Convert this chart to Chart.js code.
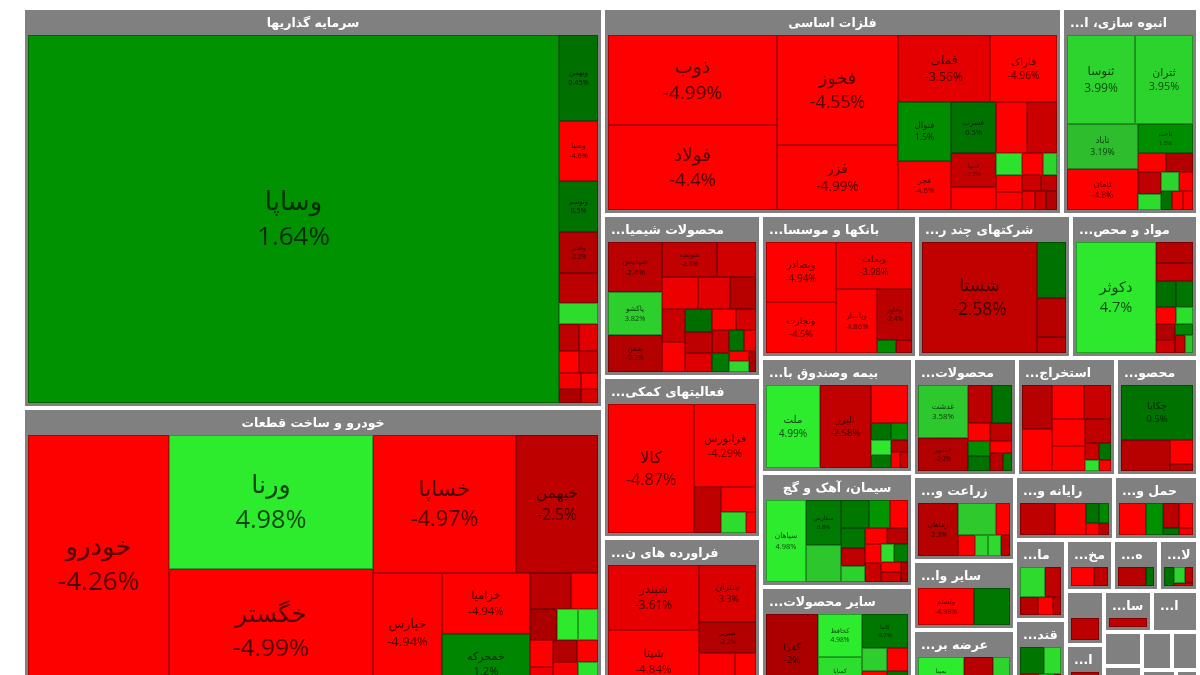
<!DOCTYPE html>
<html lang="fa">
<head>
<meta charset="utf-8">
<title>نقشه بازار</title>
<script src="https://cdn.jsdelivr.net/npm/chart.js@4.4.1/dist/chart.umd.min.js"></script>
<style>
  html, body { margin: 0; padding: 0; background: #fff; width: 1200px; height: 675px; overflow: hidden; }
  #wrap { position: absolute; left: 23px; top: 8px; width: 1175px; height: 690px; }
</style>
</head>
<body>
<div id="wrap"><canvas id="map" width="1175" height="690"></canvas></div>
<script>
// گروه ها (صنایع) و اندازه هر گروه
const sectorNames = [
  'سرمایه گذاریها', 'خودرو و ساخت قطعات', 'فلزات اساسی', 'انبوه سازی، املاک و مستغلات',
  'محصولات شیمیایی', 'فعالیتهای کمکی به نهادهای مالی واسط', 'فراورده های نفتی، کک و سوخت هسته ای',
  'بانکها و موسسات اعتباری', 'شرکتهای چند رشته ای صنعتی', 'مواد و محصولات دارویی',
  'بیمه وصندوق بازنشستگی به جزتامین اجتماعی', 'سیمان، آهک و گچ', 'سایر محصولات کانی غیرفلزی',
  'محصولات غذایی و آشامیدنی به جز قند و شکر', 'استخراج کانه های فلزی', 'محصولات کاغذی',
  'زراعت و خدمات وابسته', 'سایر واسطه گریهای مالی', 'عرضه برق، گاز، بخاروآب گرم',
  'رایانه و فعالیتهای وابسته به آن', 'حمل و نقل، انبارداری و ارتباطات', 'ماشین آلات و تجهیزات',
  'قند و شکر', 'مخابرات', 'هتل و رستوران', 'لاستیک و پلاستیک', 'پیمانکاری صنعتی',
  'اطلاعات و ارتباطات', 'ساخت محصولات فلزی', 'استخراج نفت گاز و خدمات جنبی',
  'کاشی و سرامیک', 'منسوجات', 'دباغی، پرداخت چرم', 'خرده فروشی', 'ساخت دستگاهها', 'فعالیتهای هنری'
];
const sectorValues = [
  228, 165, 93, 27.5, 25.2, 25.0, 24.8, 21.8, 21.6, 17.9, 17.2, 16.9, 16.6, 12.1, 11.5, 9.6,
  8.5, 6.9, 6.8, 6.1, 5.2, 4.0, 3.9, 2.4, 2.3, 2.0, 2.0, 1.95, 1.9, 1.85, 1.3, 1.2, 1.1, 1.0, 0.9, 0.6
];

// نمادهای هر گروه
const stockNames = [
  ['وساپا','وبهمن','وصنا','وتوسم','وغدیر','وامید','ونیکی','وسپه','وبوعلی','وسکاب','وآتی','وتوصا','وکادو','وساخت','ولتجار'],
  ['خودرو','ورنا','خگستر','خساپا','خبهمن','خپارس','خزامیا','خمحرکه','خکاوه','خریخت','خفنر','خمهر','خاهن','خچرخش','ختوقا','خرینگ','خشرق','ختور','خفولا','خکار','خلنت'],
  ['ذوب','فولاد','فخوز','فزر','فملی','فاراک','فنوال','فجر','فسرب','فخاس','فروی','فسپا','فگستر','فلامی','فنفت','فجهان','فرآور','فکوره','فولای','فاسمین','فسازان','فباهنر','فمراد'],
  ['ثنوسا','ثتران','ثاباد','ثامان','ثاخت','ثشاهد','ثفارس','ثشرق','ثرود','ثعمرا','ثپردیس','ثمسکن','ثاصفا','ثبهساز'],
  ['شپدیس','پاکشو','شفن','شوینده','شکلر','شصفها','شپاکسا','شغدیر','شاراک','شیراز','شجم','شکربن','شگل','شصدف','شدوص','شفارس','شسینا','شخاک','شلعاب','شبهرن','شخارک','شتوکا'],
  ['کالا','فرابورس','کارا','اطلس','آرین','دارا'],
  ['شبندر','شپنا','شتران','شبریز','شاوان','شسپا'],
  ['وبصادر','وتجارت','وبملت','وپاسار','وخاور','وکار','وسینا'],
  ['شستا','وصنعت','وتوکا','وپارس'],
  ['دکوثر','دفارا','دسبحا','دلر','دجابر','دتماد','دعبید','دزهراوی','دشیمی','داسوه','دالبر','دپارس'],
  ['ملت','البرز','بپاس','دانا','آسیا','کوثر','بنو','ودی','اتکای','حافظ'],
  ['سپاهان','سفارس','سخزر','سشمال','ساروم','سصفها','سهگمت','سکرد','سشرق','ساوه','سدور','سخوز','سغرب','سبهان','سکرما','سفار','سیلام','سبجنو'],
  ['کفرا','کحافظ','کساپا','کاما','کسرا','کرازی','کگاز','کلوند'],
  ['غدشت','غبشهر','غگل','غپاک','غمارگ','غنوش','غشاذر','غکورش','غسالم','غزر','غصینو'],
  ['کگل','کچاد','کروی','کگهر','کدما','کمنگنز','کترام','کمیناب','کجهان','کسرب','کزغال'],
  ['چکاپا','چفیبر','چکارن','چافست'],
  ['زماهان','زکوثر','زقیام','زشریف','زبینا','زفکا','زپارس'],
  ['ولصنم','ولتجار'],
  ['بمپنا','بکهنوج','بفجر','بزاگرس','بجهرم'],
  ['رتاپ','سیستم','مداران','ررایان','رافزا','رکیش'],
  ['حکشتی','حفارس','حتوکا','حپترو','حسینا','حآفرین'],
  ['تپمپی','لکما','تکنو','خاذین','فجام'],
  ['قثابت','قپیرا','قشکر','قنیشا','قلرست'],
  ['اخابر','همراه'],
  ['گکیش','سبزوا'],
  ['پکرمان','پتایر','پاسا','پدرخش'],
  ['بالاس'],
  ['اپرداز'],
  ['فلوله'],
  [], [], [], [], [], [], []
];
const stockValues = [
  [215.5,3.7,2.6,2.2,1.8,1.3,0.9,0.6,0.55,0.5,0.45,0.4,0.35,0.3,0.25],
  [34.5,26,24,18.7,10.8,7.9,5.1,4.9,1.4,0.9,0.8,0.6,0.6,0.6,0.55,0.5,0.45,0.4,0.35,0.3,0.3],
  [14.7,14.0,13.0,7.7,6.0,4.35,3.0,2.5,2.25,1.5,1.5,1.5,1.0,0.55,0.45,0.45,0.45,0.3,0.3,0.25,0.25,0.2,0.2],
  [5.8,5.0,3.1,2.8,1.55,0.5,0.5,0.46,0.35,0.33,0.25,0.22,0.2,0.18],
  [2.6,2.2,1.9,1.8,1.3,1.1,1.0,0.8,0.7,0.65,0.6,0.55,0.5,0.45,0.4,0.35,0.3,0.3,0.25,0.2,0.2,0.15],
  [10.8,5.0,1.2,0.85,0.5,0.2],
  [6.2,6.0,3.4,1.8,1.5,0.9],
  [4.2,3.6,3.6,2.65,1.8,0.25,0.2],
  [12.8,1.6,1.15,0.45],
  [9.3,0.8,0.7,0.55,0.45,0.35,0.3,0.3,0.25,0.2,0.2,0.15],
  [4.5,4.2,1.4,0.35,0.3,0.3,0.25,0.2,0.15,0.12],
  [3.3,1.6,1.3,0.8,0.6,0.5,0.5,0.45,0.4,0.35,0.35,0.3,0.3,0.25,0.25,0.2,0.2,0.15],
  [4.5,2.1,1.8,1.7,0.65,0.6,0.55,0.5],
  [2.4,1.5,0.8,0.7,0.35,0.35,0.3,0.3,0.25,0.2,0.15],
  [1.25,1.2,1.05,0.9,0.85,0.8,0.6,0.25,0.2,0.15,0.12],
  [3.9,1.5,0.55,0.15],
  [2.3,1.3,0.5,0.4,0.3,0.3,0.2],
  [1.7,1.1],
  [2.2,0.8,0.6,0.6,0.2],
  [1.1,1.0,0.25,0.2,0.15,0.12],
  [0.85,0.55,0.4,0.35,0.12,0.1],
  [0.8,0.5,0.35,0.3,0.15],
  [0.7,0.5,0.4,0.3,0.15],
  [0.5,0.3],
  [0.5,0.15],
  [0.3,0.25,0.2,0.1],
  [0.1],
  [0.1],
  [0.1],
  [], [], [], [], [], [], []
];
// درصد تغییر قیمت
const stockChanges = [
  [1.64,0.45,-4.6,0.5,-2.2,-2.4,4.3,-2.5,-3.5,-4.5,-3.0,-4.0,-2.0,-4.8,-3.2],
  [-4.26,4.98,-4.99,-4.97,-2.5,-4.94,-4.94,1.2,-2.4,-4.6,-2.0,4.8,4.7,-4.3,-3.9,-2.2,-4.6,-4.0,-2.8,4.5,-3.3],
  [-4.99,-4.4,-4.55,-4.99,-3.56,-4.96,1.5,-4.6,0.5,-4.5,-2.8,-2.7,-4.4,4.5,-4.7,-4.8,-4.5,4.0,-2.9,-2.5,-3.8,-3.0,-2.2],
  [3.99,3.95,3.19,-4.8,1.5,-4.6,-2.2,-2.5,4.3,4.0,-4.5,0.5,-4.9,-4.2],
  [-2.4,3.82,-2.2,-2.6,-3.0,-3.8,-3.5,-2.3,-2.8,-4.2,0.4,-2.5,-3.4,-4.5,-3.1,-2.7,0.8,0.5,-3.9,-4.3,4.2,-2.0],
  [-4.87,-4.29,-2.5,-4.4,4.3,-4.6],
  [-3.61,-4.84,-3.3,-2.2,-4.2,-4.5],
  [-4.94,-4.5,-3.98,-4.86,-2.4,1.4,-2.7],
  [-2.58,0.5,-2.3,-2.5],
  [4.7,-2.3,-2.6,0.4,0.6,-4.7,4.4,-2.2,-3.0,1.3,-2.7,3.5],
  [4.99,-2.58,-4.6,0.5,1.5,4.7,0.6,-2.4,-4.5,-3.0],
  [4.98,0.8,3.5,0.7,1.8,-4.6,0.6,-2.5,3.9,-4.5,-2.3,-4.8,-2.8,4.4,0.9,-4.2,-3.0,-2.1],
  [-2.0,4.98,4.4,0.7,3.8,-4.4,-4.6,0.5],
  [3.58,-2.2,-2.4,0.5,-4.5,-2.5,1.5,0.5,-4.4,-2.3,0.6],
  [-2.3,-4.5,-4.6,-2.8,-4.3,-4.6,-2.5,-2.8,0.5,4.5,-4.5],
  [0.5,-2.3,-4.5,-2.5],
  [-2.3,3.6,-4.6,-4.3,4.0,4.2,-2.5],
  [-4.98,0.7],
  [4.9,-2.3,0.6,4.0,0.5],
  [-2.5,-4.3,0.5,1.3,-4.5,-2.4],
  [-4.6,1.6,-2.4,-4.4,0.5,-4.0],
  [4.2,-2.5,-2.3,-4.5,-2.4],
  [0.6,4.3,-4.5,3.9,-2.4],
  [-4.6,-2.5],
  [-2.3,0.5],
  [0.5,4.0,-2.5,-3.0],
  [-2.4],
  [-2.3],
  [-2.5],
  [], [], [], [], [], [], []
];

// چیدمان مربعی (squarified)
function worst(row, side) {
  const s = row.reduce((t, r) => t + r.a, 0);
  const mx = Math.max(...row.map(r => r.a));
  const mn = Math.min(...row.map(r => r.a));
  return Math.max(side * side * mx / (s * s), (s * s) / (side * side * mn));
}

function squarify(values, x, y, w, h) {
  const out = values.map(() => null);
  const order = values.map((v, i) => i).filter(i => values[i] > 0).sort((a, b) => values[b] - values[a]);
  const total = order.reduce((s, i) => s + values[i], 0);
  if (!total || w <= 0 || h <= 0) return out;
  const k = (w * h) / total;
  let rest = order.map(i => ({ i, a: values[i] * k }));
  while (rest.length) {
    const side = Math.min(w, h);
    const row = [rest[0]];
    let n = 1;
    while (n < rest.length && worst(row.concat(rest[n]), side) <= worst(row, side)) {
      row.push(rest[n]);
      n++;
    }
    rest = rest.slice(n);
    const s = row.reduce((t, r) => t + r.a, 0);
    if (w >= h) {
      const cw = s / h;
      let yy = y;
      row.forEach(r => { const rh = r.a / cw; out[r.i] = { x, y: yy, w: cw, h: rh }; yy += rh; });
      x += cw; w -= cw;
    } else {
      const rh = s / w;
      let xx = x;
      row.forEach(r => { const rw = r.a / rh; out[r.i] = { x: xx, y, w: rw, h: rh }; xx += rw; });
      y += rh; h -= rh;
    }
  }
  return out;
}

function cellColor(p) {
  if (p >= 0) {
    const g = Math.round(Math.min(235, 100 + p * 28));
    const w = p >= 3 ? 45 : 0;
    return `rgb(${w},${g},${w})`;
  }
  const r = Math.round(Math.min(255, 100 + (-p) * 36));
  return `rgb(${r},0,0)`;
}

function fitText(ctx, text, maxW) {
  if (ctx.measureText(text).width <= maxW) return { t: text, cut: false };
  let s = text;
  while (s.length > 1) {
    s = s.slice(0, -1);
    const t = s.trimEnd() + '...';
    if (ctx.measureText(t).width <= maxW) return { t, cut: true };
  }
  return { t: '', cut: true };
}

const treemapPlugin = {
  id: 'treemapDraw',
  afterDatasetsDraw(chart) {
    const ctx = chart.ctx;
    const xs = chart.scales.x, ys = chart.scales.y;
    const rects = squarify(sectorValues, xs.min, ys.min, xs.max - xs.min, ys.max - ys.min);
    ctx.save();
    rects.forEach((r, si) => {
      if (!r) return;
      const left = Math.round(xs.getPixelForValue(r.x)) + 2;
      const right = Math.round(xs.getPixelForValue(r.x + r.w)) - 2;
      const top = Math.round(ys.getPixelForValue(r.y)) + 2;
      const bottom = Math.round(ys.getPixelForValue(r.y + r.h)) - 2;
      if (right - left < 2 || bottom - top < 2) return;
      const bw = right - left;

      // جعبه خاکستری گروه
      ctx.fillStyle = '#808080';
      ctx.fillRect(left, top, bw, bottom - top);

      // عنوان گروه
      ctx.font = 'bold 12.5px "DejaVu Sans", sans-serif';
      ctx.fillStyle = '#ffffff';
      ctx.textBaseline = 'middle';
      ctx.direction = 'rtl';
      const head = fitText(ctx, sectorNames[si], bw * 0.75);
      if (head.t) {
        ctx.textAlign = head.cut ? 'left' : 'center';
        ctx.fillText(head.t, head.cut ? left + 6 : (left + right) / 2, top + 14);
      }

      // نمادها
      const il = left + 3, it = top + 25, iw = bw - 6, ih = bottom - top - 28;
      if (iw <= 1 || ih <= 1) return;
      const cells = squarify(stockValues[si], il, it, iw, ih);
      cells.forEach((c, j) => {
        if (!c) return;
        const x0 = Math.round(c.x), y0 = Math.round(c.y);
        const x1 = Math.round(c.x + c.w), y1 = Math.round(c.y + c.h);
        const w = x1 - x0, h = y1 - y0;
        if (w <= 0 || h <= 0) return;
        const p = stockChanges[si][j];
        ctx.fillStyle = cellColor(p);
        ctx.fillRect(x0, y0, w, h);
        ctx.strokeStyle = 'rgba(0,0,0,0.3)';
        ctx.lineWidth = 1;
        ctx.strokeRect(x0 + 0.5, y0 + 0.5, w - 1, h - 1);

        const fs = Math.min(26, w / 5.3, h / 4.4, Math.sqrt(w * h) / 6.5);
        if (fs < 6) return;
        const cx = x0 + w / 2, cy = y0 + h / 2;
        ctx.fillStyle = 'rgba(0,0,0,0.7)';
        ctx.textAlign = 'center';
        ctx.direction = 'rtl';
        ctx.font = `${fs.toFixed(1)}px "DejaVu Sans", sans-serif`;
        ctx.fillText(stockNames[si][j], cx, cy - fs * 0.62);
        ctx.direction = 'ltr';
        ctx.font = `${fs.toFixed(1)}px "Open Sans", sans-serif`;
        ctx.fillText(p + '%', cx, cy + fs * 0.72);
      });
    });
    ctx.restore();
  }
};

const chart = new Chart(document.getElementById('map'), {
  type: 'scatter',
  data: { datasets: [{ data: [], pointRadius: 0 }] },
  options: {
    responsive: false,
    animation: false,
    layout: { padding: 0 },
    plugins: { legend: { display: false }, tooltip: { enabled: false } },
    scales: {
      x: { type: 'linear', min: 0, max: 1175, display: false },
      y: { type: 'linear', min: 0, max: 690, reverse: true, display: false }
    }
  },
  plugins: [treemapPlugin]
});
</script>
</body>
</html>
